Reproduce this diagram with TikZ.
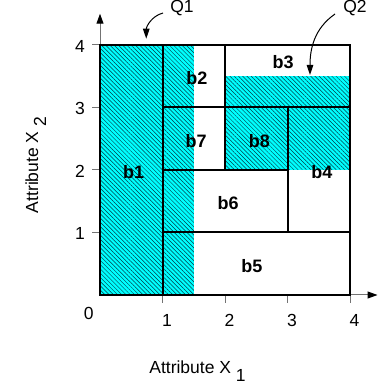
\documentclass[tikz,border=0pt]{standalone}
\usepackage{fontspec}
\setmainfont{Liberation Sans}
\usetikzlibrary{patterns.meta,arrows.meta}
\definecolor{aqua}{RGB}{0,255,255}
\definecolor{hatchline}{RGB}{0,60,70}
\begin{document}
\begin{tikzpicture}[x=62.5pt,y=62.5pt,
  boxline/.style={line width=2pt,black,line cap=rect},
  axisline/.style={line width=1pt,black!55},
  hatch/.style={preaction={fill=aqua},pattern={Lines[angle=-45,distance=3pt,line width=0.5pt]},pattern color=hatchline},
  blabel/.style={font=\fontsize{18}{21}\selectfont\bfseries,inner sep=0pt},
  txt/.style={font=\fontsize{17.5}{21}\selectfont,inner sep=0pt},
  qarrow/.style={line width=1pt,-{Triangle[length=10pt,width=6.5pt]}},
  axarrow/.style={-{Triangle[length=10pt,width=7pt,color=black]}}
]
\useasboundingbox (-1.6,-1.44) rectangle (4.448,4.72);
% hatched query regions
\path[hatch] (0,0) rectangle (1.5,4);
\path[hatch] (2,2) rectangle (4,3.5);
% axes
\coordinate (o) at (0,0);
\coordinate (xend) at (4.44,0);
\coordinate (yend) at (0,4.5);
\draw[axisline,axarrow] (o) -- (xend);
\draw[axisline,axarrow] (o) -- (yend);
\foreach \i in {1,2,3,4}{
  \draw[axisline] (\i,0) -- (\i,-0.13);
  \draw[axisline] (0,\i) -- (-0.13,\i);
  \node[txt] (xt\i) at (\i+0.07,-0.4) {\i};
  \node[txt] (yt\i) at (-0.32,\i-0.02) {\i};
}
\node[txt] (zero) at (-0.18,-0.29) {0};
% box partition
\draw[boxline] (0,0) rectangle (4,4);
\draw[boxline] (1,0) -- (1,4);
\draw[boxline] (2,2) -- (2,4);
\draw[boxline] (1,3) -- (4,3);
\draw[boxline] (1,2) -- (3,2);
\draw[boxline] (3,1) -- (3,3);
\draw[boxline] (1,1) -- (4,1);
% box labels
\node[blabel] (b1) at (0.54,1.97) {b1};
\node[blabel] (b2) at (1.55,3.47) {b2};
\node[blabel] (b3) at (2.93,3.73) {b3};
\node[blabel] (b7) at (1.54,2.47) {b7};
\node[blabel] (b8) at (2.55,2.47) {b8};
\node[blabel] (b4) at (3.55,1.97) {b4};
\node[blabel] (b6) at (2.05,1.47) {b6};
\node[blabel] (b5) at (2.43,0.47) {b5};
% query labels and arrows
\node[txt] (Q1) at (1.312,4.584) {Q1};
\node[txt] (Q2) at (4.08,4.592) {Q2};
\coordinate (q1s) at (1.008,4.512);
\coordinate (q1t) at (0.74,4.1);
\coordinate (q2s) at (3.76,4.496);
\coordinate (q2t) at (3.36,3.52);
\draw[qarrow] (q1s) to[out=195,in=90] (q1t);
\draw[qarrow] (q2s) to[out=215,in=90] (q2t);
% axis titles
\node[txt,anchor=base] (xtitle) at (1.56,-1.25) {Attribute X~\raisebox{-8pt}{1}};
\node[txt,anchor=base,rotate=90] (ytitle) at (-0.99,2.08) {Attribute X~\raisebox{-8pt}{2}};
\end{tikzpicture}
\end{document}
